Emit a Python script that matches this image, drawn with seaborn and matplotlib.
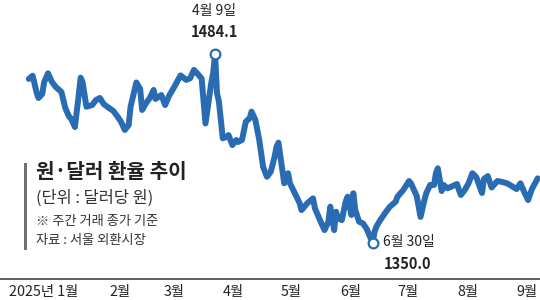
import matplotlib
matplotlib.use("Agg")
import matplotlib.pyplot as plt
import matplotlib.dates as mdates
from matplotlib.patches import Rectangle
import seaborn as sns
import pandas as pd

# ---------------- data ----------------
dates = [
    "2025-01-02", "2025-01-04", "2025-01-06", "2025-01-07", "2025-01-09", "2025-01-10",
    "2025-01-12", "2025-01-14", "2025-01-16", "2025-01-17", "2025-01-19", "2025-01-21",
    "2025-01-23", "2025-01-24", "2025-01-26", "2025-01-28", "2025-01-29", "2025-01-30",
    "2025-02-01", "2025-02-04", "2025-02-06", "2025-02-08", "2025-02-10", "2025-02-13",
    "2025-02-15", "2025-02-17", "2025-02-19", "2025-02-21", "2025-02-23", "2025-02-24",
    "2025-02-27", "2025-03-01", "2025-03-02", "2025-03-04", "2025-03-06", "2025-03-08",
    "2025-03-09", "2025-03-12", "2025-03-14", "2025-03-16", "2025-03-19", "2025-03-22",
    "2025-03-25", "2025-03-27", "2025-03-29", "2025-03-31", "2025-04-02", "2025-04-04",
    "2025-04-07", "2025-04-08", "2025-04-09", "2025-04-10", "2025-04-11", "2025-04-13",
    "2025-04-15", "2025-04-16", "2025-04-18", "2025-04-20", "2025-04-21", "2025-04-23",
    "2025-04-25", "2025-04-27", "2025-04-28", "2025-04-30", "2025-05-02", "2025-05-04",
    "2025-05-06", "2025-05-08", "2025-05-10", "2025-05-11", "2025-05-12", "2025-05-14",
    "2025-05-15", "2025-05-17", "2025-05-18", "2025-05-21", "2025-05-23", "2025-05-24",
    "2025-05-27", "2025-05-30", "2025-05-31", "2025-06-03", "2025-06-05", "2025-06-07",
    "2025-06-08", "2025-06-10", "2025-06-11", "2025-06-12", "2025-06-14", "2025-06-16",
    "2025-06-17", "2025-06-19", "2025-06-20", "2025-06-21", "2025-06-23", "2025-06-25",
    "2025-06-27", "2025-06-30", "2025-07-01", "2025-07-02", "2025-07-04", "2025-07-07",
    "2025-07-09", "2025-07-12", "2025-07-13", "2025-07-16", "2025-07-19", "2025-07-20",
    "2025-07-23", "2025-07-25", "2025-07-27", "2025-07-28", "2025-07-30", "2025-08-01",
    "2025-08-02", "2025-08-03", "2025-08-05", "2025-08-06", "2025-08-08", "2025-08-10",
    "2025-08-13", "2025-08-14", "2025-08-15", "2025-08-17", "2025-08-19", "2025-08-21",
    "2025-08-23", "2025-08-26", "2025-08-27", "2025-08-29", "2025-08-31", "2025-09-03",
    "2025-09-05", "2025-09-08", "2025-09-10", "2025-09-13", "2025-09-15", "2025-09-17",
    "2025-09-19", "2025-09-21", "2025-09-24",
]
rates = [
    1466.4, 1468.7, 1457.1, 1452.9, 1455.7, 1464.2,
    1470.4, 1464.4, 1460.7, 1459.6, 1457.1, 1445.8,
    1439.6, 1438.3, 1432.3, 1455.0, 1467.3, 1464.2,
    1446.7, 1447.9, 1451.5, 1452.9, 1448.6, 1445.6,
    1443.7, 1440.1, 1436.1, 1430.2, 1433.7, 1446.7,
    1463.9, 1459.3, 1444.4, 1449.1, 1452.9, 1458.6,
    1452.2, 1455.0, 1447.9, 1454.3, 1461.4, 1468.9,
    1465.7, 1466.9, 1472.8, 1469.9, 1466.7, 1434.8,
    1463.5, 1470.6, 1484.1, 1456.4, 1450.3, 1424.3,
    1425.4, 1426.6, 1419.5, 1423.1, 1421.7, 1423.1,
    1436.1, 1438.5, 1443.2, 1437.3, 1423.1, 1404.1,
    1397.0, 1400.6, 1411.2, 1418.3, 1421.2, 1401.8,
    1392.4, 1399.5, 1392.4, 1384.1, 1378.4, 1373.4,
    1378.2, 1381.7, 1374.6, 1365.1, 1359.2, 1365.1,
    1375.8, 1359.2, 1372.2, 1367.5, 1366.3, 1379.3,
    1382.9, 1369.9, 1385.3, 1373.4, 1365.1, 1364.0,
    1359.9, 1350.0, 1357.8, 1361.6, 1366.3, 1372.2,
    1375.8, 1379.3, 1382.9, 1387.6, 1394.0, 1392.4,
    1383.4, 1368.5, 1380.5, 1385.5, 1391.2, 1391.2,
    1399.5, 1403.0, 1386.9, 1391.2, 1388.8, 1390.0,
    1391.9, 1387.6, 1384.1, 1387.6, 1392.4, 1399.5,
    1396.8, 1385.5, 1395.4, 1397.5, 1389.4, 1394.0,
    1393.5, 1392.4, 1390.8, 1388.3, 1392.4, 1386.2,
    1380.5, 1388.3, 1395.9,
]
month_labels = ["2025년 1월", "2월", "3월", "4월", "5월", "6월", "7월", "8월", "9월"]
peak_date_label = "4월 9일"
low_date_label = "6월 30일"
title_text = "원·달러 환율 추이"
unit_text = "(단위 : 달러당 원)"
note_text = "※ 주간 거래 종가 기준"
source_text = "자료 : 서울 외환시장"

# ---------------- style ----------------
sns.set_style("white")
plt.rcParams["font.family"] = ["Noto Sans CJK KR", "DejaVu Sans"]

BLUE = "#2a6cb3"
DARK = "#222222"
W, H = 540, 300

df = pd.DataFrame({"date": pd.to_datetime(dates), "rate": rates})

fig = plt.figure(figsize=(W / 100, H / 100), dpi=100)
ax = fig.add_axes([0, 21 / H, 1, 279 / H])

sns.lineplot(data=df, x="date", y="rate", ax=ax, color=BLUE, linewidth=4.3,
             solid_joinstyle="round", solid_capstyle="round", zorder=3)

jan1 = pd.Timestamp("2025-01-01")
ax.set_xlim(jan1 - pd.Timedelta(days=14.0), jan1 + pd.Timedelta(days=267.2))
ax.set_ylim(1324.5, 1522.4)
ax.set_yticks([])
ax.set_xlabel("")
ax.set_ylabel("")

for s in ["top", "left", "right"]:
    ax.spines[s].set_visible(False)
ax.spines["bottom"].set_color("#333333")
ax.spines["bottom"].set_linewidth(1.1)

# month boundary ticks (pointing up) and month labels in between
major = [mdates.date2num(pd.Timestamp(f"2025-{m:02d}-01") + pd.Timedelta(days=1))
         for m in range(2, 10)]
ax.set_xticks(major)
ax.tick_params(axis="x", which="major", direction="in", length=7.5, width=1.0,
               color="#333333", labelbottom=False)
minor = [mdates.date2num(jan1 + pd.Timedelta(days=8.5))]
minor += [mdates.date2num(pd.Timestamp(f"2025-{m:02d}-01") + pd.Timedelta(days=17.5))
          for m in range(2, 10)]
ax.set_xticks(minor, minor=True)
ax.set_xticklabels(month_labels, minor=True)
ax.tick_params(axis="x", which="minor", length=0, pad=4, labelsize=10.3,
               labelcolor=DARK)

# peak / low annotations
ipk = int(df["rate"].idxmax())
ilo = int(df["rate"].idxmin())
for i in (ipk, ilo):
    ax.plot(df["date"][i], df["rate"][i], marker="o", ms=7, mfc="white",
            mec=BLUE, mew=1.6, zorder=5)

ax.annotate(peak_date_label, (df["date"][ipk], df["rate"][ipk]), xytext=(-1, 43),
            textcoords="offset pixels", ha="center", va="center", fontsize=10,
            color=DARK)
ax.annotate(f"{df['rate'][ipk]:.1f}", (df["date"][ipk], df["rate"][ipk]),
            xytext=(-1, 22), textcoords="offset pixels", ha="center", va="center",
            fontsize=10.5, fontweight="bold", color=DARK)
ax.annotate(low_date_label, (df["date"][ilo], df["rate"][ilo]), xytext=(10, 1),
            textcoords="offset pixels", ha="left", va="center", fontsize=10,
            color=DARK)
ax.annotate(f"{df['rate'][ilo]:.1f}", (df["date"][ilo], df["rate"][ilo]),
            xytext=(11, -21), textcoords="offset pixels", ha="left", va="center",
            fontsize=10.5, fontweight="bold", color=DARK)

# title block on the left
fig.add_artist(Rectangle((24 / W, 1 - 250 / H), 3 / W, 87 / H,
                         transform=fig.transFigure, color="#707070", lw=0))
fig.text(36 / W, 1 - 172 / H, title_text, fontsize=14.5, fontweight="bold",
         color=DARK, ha="left", va="center")
fig.text(36 / W, 1 - 198 / H, unit_text, fontsize=11.8, color="#333333",
         ha="left", va="center")
fig.text(36 / W, 1 - 221 / H, note_text, fontsize=9.5, color="#333333",
         ha="left", va="center")
fig.text(36 / W, 1 - 240.5 / H, source_text, fontsize=9.5, color="#333333",
         ha="left", va="center")

fig.savefig("out.png", dpi=100, facecolor="white")
